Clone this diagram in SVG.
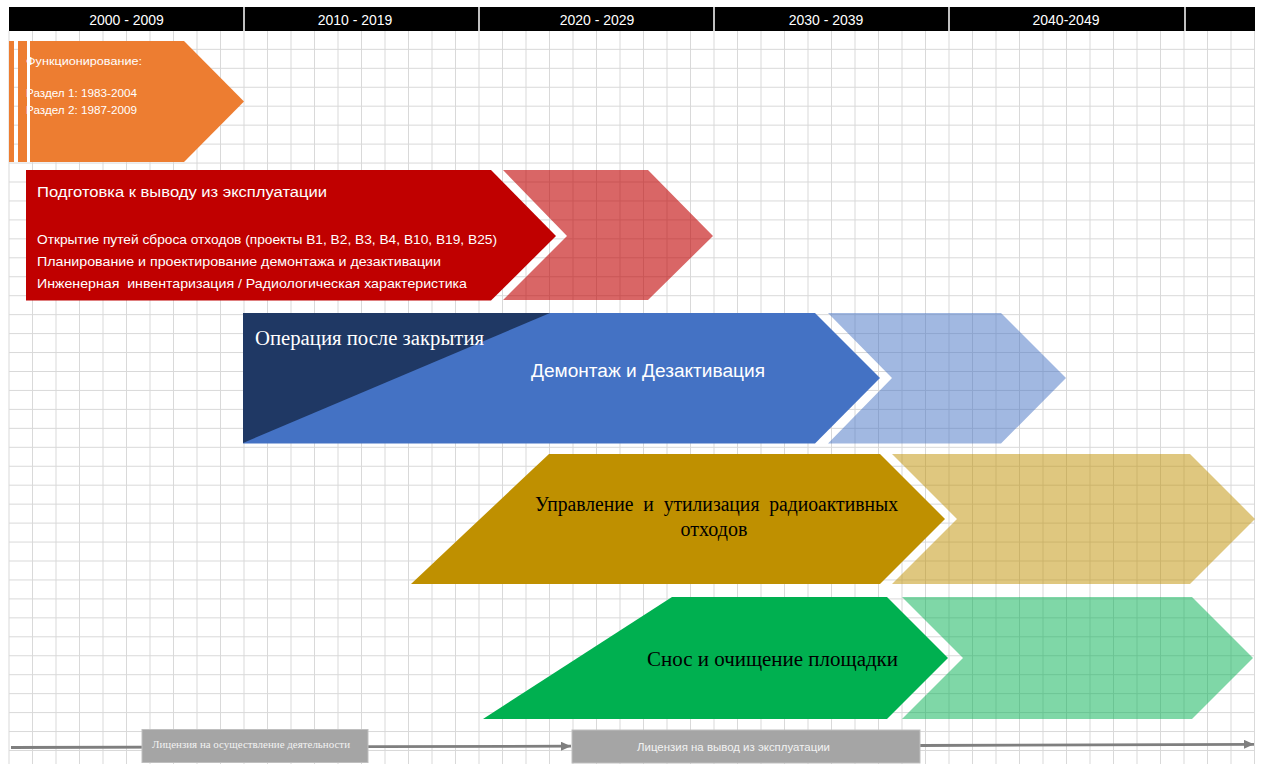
<svg xmlns="http://www.w3.org/2000/svg" width="1262" height="764" viewBox="0 0 1262 764">
<style>
.grid{stroke:#d9d9d9;stroke-width:1;fill:none}
.hdr{fill:#000}
.hdrt{font-family:"Liberation Sans",Arial,sans-serif;font-size:14px;fill:#fff;text-anchor:middle}
.sans{font-family:"Liberation Sans",Arial,sans-serif}
.serif{font-family:"Liberation Serif","Times New Roman",serif}
.w{fill:#fff}
.k{fill:#000}
.pre{white-space:pre}
.conn{stroke:#7f7f7f;stroke-width:2.8;fill:none}
.lic{fill:#a5a5a5;stroke:#bfbfbf;stroke-width:1}
</style>
<defs>
<marker id="arr" markerUnits="userSpaceOnUse" markerWidth="11" markerHeight="10" refX="10" refY="4.5" orient="auto">
<path d="M0,0 L10,4.5 L0,9 z" fill="#7f7f7f"/>
</marker>
</defs>
<rect width="1262" height="764" fill="#fff"/>
<g id="grid" class="grid">
<path d="M9,31V764M32.5,31V764M56,31V764M79.5,31V764M103,31V764M126.5,31V764M150,31V764M173.5,31V764M197,31V764M220.5,31V764M244,31V764M267.5,31V764M291,31V764M314.5,31V764M338,31V764M361.5,31V764M385,31V764M408.5,31V764M432,31V764M455.5,31V764M479,31V764M502.5,31V764M526,31V764M549.5,31V764M573,31V764M596.5,31V764M620,31V764M643.5,31V764M667,31V764M690.5,31V764M714,31V764M737.5,31V764M761,31V764M784.5,31V764M808,31V764M831.5,31V764M855,31V764M878.5,31V764M902,31V764M925.5,31V764M949,31V764M972.5,31V764M996,31V764M1019.5,31V764M1043,31V764M1066.5,31V764M1090,31V764M1113.5,31V764M1137,31V764M1160.5,31V764M1184,31V764M1207.5,31V764M1231,31V764M1254.5,31V764"/>
<path d="M9,49.35H1255M9,68.3H1255M9,87.25H1255M9,106.2H1255M9,125.15H1255M9,144.1H1255M9,163.05H1255M9,182H1255M9,200.95H1255M9,219.9H1255M9,238.85H1255M9,257.8H1255M9,276.75H1255M9,295.7H1255M9,314.65H1255M9,333.6H1255M9,352.55H1255M9,371.5H1255M9,390.45H1255M9,409.4H1255M9,428.35H1255M9,447.3H1255M9,466.25H1255M9,485.2H1255M9,504.15H1255M9,523.1H1255M9,542.05H1255M9,561H1255M9,579.95H1255M9,598.9H1255M9,617.85H1255M9,636.8H1255M9,655.75H1255M9,674.7H1255M9,693.65H1255M9,712.6H1255M9,731.55H1255M9,750.5H1255"/>
</g>
<g id="header">
<rect class="hdr" x="9" y="7" width="1246" height="24"/>
<path d="M244,7V31M479,7V31M714,7V31M949,7V31M1185,7V31" stroke="#fff" stroke-width="1.5"/>
<text class="hdrt" x="126.5" y="25">2000 - 2009</text>
<text class="hdrt" x="355" y="25">2010 - 2019</text>
<text class="hdrt" x="597" y="25">2020 - 2029</text>
<text class="hdrt" x="826" y="25">2030 - 2039</text>
<text class="hdrt" x="1066" y="25">2040-2049</text>
</g>
<g id="node-operation">
<rect x="9" y="41" width="5" height="121" fill="#ed7d31"/>
<rect x="18" y="41" width="9" height="121" fill="#ed7d31"/>
<polygon points="30,41 184,41 244,101.5 184,162 30,162" fill="#ed7d31"/>
<text class="sans w" x="26" y="65" font-size="11.5" textLength="116" lengthAdjust="spacingAndGlyphs">Функционирование:</text>
<text class="sans w" x="26" y="97" font-size="11.5" textLength="111" lengthAdjust="spacingAndGlyphs">Раздел 1: 1983-2004</text>
<text class="sans w" x="26" y="114" font-size="11.5" textLength="111" lengthAdjust="spacingAndGlyphs">Раздел 2: 1987-2009</text>
<rect x="27" y="41" width="3" height="121" fill="#fff"/>
</g>
<g id="node-preparation">
<polygon points="503,170 648,170 713,236 648,300 503,300 567,236" fill="#c00000" fill-opacity="0.6"/>
<polygon points="26,170 491,170 556,236 491,300.5 26,300.5" fill="#c00000"/>
<text class="sans w" x="37" y="196.5" font-size="15.5" textLength="290" lengthAdjust="spacingAndGlyphs">Подготовка к выводу из эксплуатации</text>
<text class="sans w" x="37" y="243.5" font-size="13" textLength="460" lengthAdjust="spacingAndGlyphs">Открытие путей сброса отходов (проекты B1, B2, B3, B4, B10, B19, B25)</text>
<text class="sans w" x="37" y="265.5" font-size="13" textLength="404" lengthAdjust="spacingAndGlyphs">Планирование и проектирование демонтажа и дезактивации</text>
<text class="sans w pre" x="37" y="287.5" font-size="13" textLength="430" lengthAdjust="spacingAndGlyphs">Инженерная  инвентаризация / Радиологическая характеристика</text>
</g>
<g id="node-dismantling">
<polygon points="828,313 1001,313 1066,378 1001,443.5 828,443.5 892,378" fill="#4472c4" fill-opacity="0.5"/>
<polygon points="243,313 815,313 880,378 815,443.5 243,443.5" fill="#4472c4"/>
<polygon points="243,313 550,313 243,443" fill="#1f3864"/>
<text class="serif w" x="255" y="345" font-size="20" textLength="229" lengthAdjust="spacingAndGlyphs">Операция после закрытия</text>
<text class="sans w" x="531" y="377" font-size="18" textLength="234" lengthAdjust="spacingAndGlyphs">Демонтаж и Дезактивация</text>
</g>
<g id="node-waste">
<polygon points="892,454 1190,454 1255,519 1190,584 892,584 957,519" fill="#bf9000" fill-opacity="0.5"/>
<polygon points="549,454 880,454 945,519 880,584 411,584" fill="#bf9000"/>
<text class="serif k pre" x="535" y="511" font-size="20" textLength="363" lengthAdjust="spacingAndGlyphs">Управление  и  утилизация  радиоактивных</text>
<text class="serif k" x="714" y="536" font-size="20" text-anchor="middle">отходов</text>
</g>
<g id="node-site">
<polygon points="902,597 1192,597 1253,658 1192,719 902,719 963,658" fill="#00b050" fill-opacity="0.5"/>
<polygon points="672,597 887,597 948,658 887,719 483,719" fill="#00b050"/>
<text class="serif k" x="647" y="665.5" font-size="20" textLength="251" lengthAdjust="spacingAndGlyphs">Снос и очищение площадки</text>
</g>
<g id="connectors">
<path class="conn" d="M11,747.5 L571,746.2" marker-end="url(#arr)"/>
<path class="conn" d="M920,745.5 L1254,744.3" marker-end="url(#arr)"/>
</g>
<g id="license-operation">
<rect class="lic" x="142" y="729.5" width="226" height="33"/>
<text class="serif" x="152" y="748" font-size="10.5" fill="#f2f2f2" textLength="198" lengthAdjust="spacingAndGlyphs">Лицензия на осуществление деятельности</text>
</g>
<g id="license-decommissioning">
<rect class="lic" x="572" y="730" width="348" height="33"/>
<text class="sans" x="637" y="750.5" font-size="11" fill="#f2f2f2" textLength="193" lengthAdjust="spacingAndGlyphs">Лицензия на вывод из эксплуатации</text>
</g>
</svg>
